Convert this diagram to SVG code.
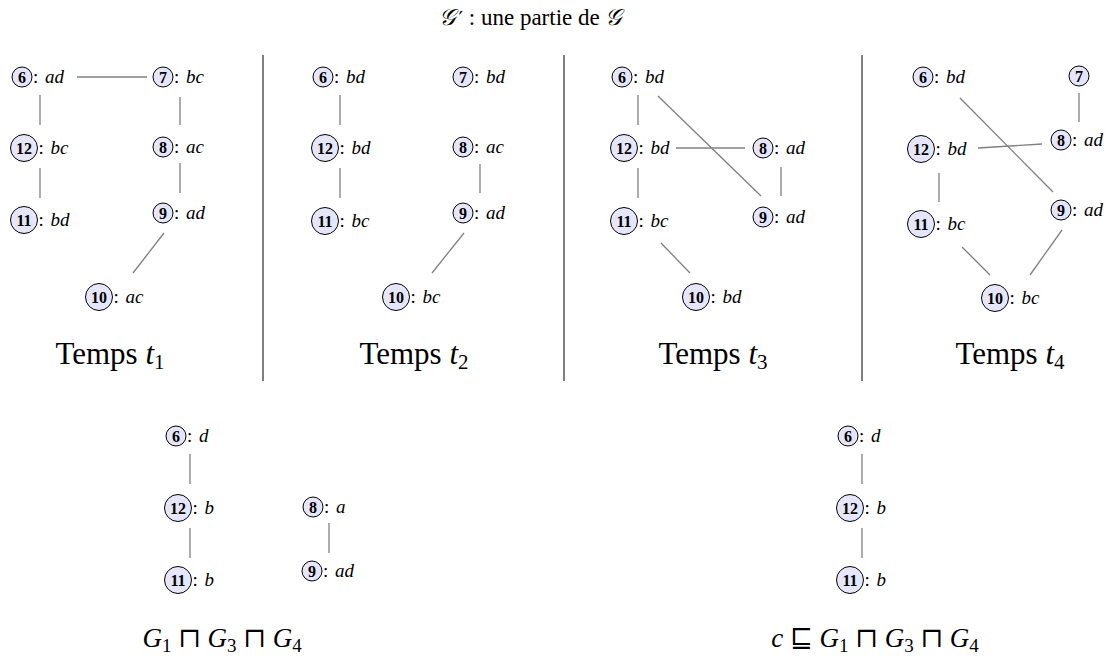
<svg xmlns="http://www.w3.org/2000/svg" width="1110" height="666" viewBox="0 0 1110 666">
<style>
.bg{fill:#fff}
.ci{fill:#e6e6fa;stroke:#000;stroke-width:1}
.num{font-family:"Liberation Serif",serif;font-weight:bold;font-size:16px;text-anchor:middle}
.lbl{font-family:"Liberation Serif",serif;font-size:19px}
.it{font-style:italic}
.edge{stroke:#808080;stroke-width:1.3;fill:none}
.div{stroke:#000;stroke-width:1}
.big{font-family:"Liberation Serif",serif;font-size:31px;text-anchor:middle}
.bot{font-family:"Liberation Serif","DejaVu Serif",serif;font-size:27px;text-anchor:middle}
.title{font-family:"Liberation Serif","DejaVu Serif",serif;font-size:23px;text-anchor:middle}
</style>
<rect class="bg" x="0" y="0" width="1110" height="666"/>
<text id="title" class="title" x="530" y="25"><tspan font-style="italic">𝒢</tspan><tspan font-family="DejaVu Sans, sans-serif" font-size="20" dx="4">′</tspan> : une partie de <tspan font-style="italic">𝒢</tspan></text>
<g id="dividers">
<line class="div" x1="263" y1="55" x2="263" y2="381"/>
<line class="div" x1="564" y1="55" x2="564" y2="381"/>
<line class="div" x1="862" y1="55" x2="862" y2="381"/>
</g>
<g id="connectors">
<line class="edge" x1="77" y1="77" x2="147" y2="77"/>
<line class="edge" x1="40" y1="95" x2="40" y2="125"/>
<line class="edge" x1="40" y1="168" x2="40" y2="198"/>
<line class="edge" x1="180" y1="97" x2="180" y2="125"/>
<line class="edge" x1="180" y1="163" x2="180" y2="193"/>
<line class="edge" x1="164" y1="233" x2="133" y2="273"/>
<line class="edge" x1="340" y1="95" x2="340" y2="125"/>
<line class="edge" x1="340" y1="168" x2="340" y2="198"/>
<line class="edge" x1="480" y1="164" x2="480" y2="193"/>
<line class="edge" x1="464" y1="233" x2="432" y2="273"/>
<line class="edge" x1="638" y1="95" x2="638" y2="125"/>
<line class="edge" x1="638" y1="168" x2="638" y2="198"/>
<line class="edge" x1="676" y1="148" x2="745" y2="148"/>
<line class="edge" x1="658" y1="96" x2="761" y2="196"/>
<line class="edge" x1="781" y1="167" x2="781" y2="196"/>
<line class="edge" x1="661" y1="243" x2="690" y2="273"/>
<line class="edge" x1="1079" y1="93" x2="1079" y2="122"/>
<line class="edge" x1="978" y1="148" x2="1042" y2="144"/>
<line class="edge" x1="960" y1="98" x2="1053" y2="192"/>
<line class="edge" x1="939" y1="173" x2="939" y2="202"/>
<line class="edge" x1="962" y1="247" x2="990" y2="275"/>
<line class="edge" x1="1062" y1="230" x2="1030" y2="275"/>
<line class="edge" x1="190" y1="454" x2="190" y2="484"/>
<line class="edge" x1="190" y1="528" x2="190" y2="558"/>
<line class="edge" x1="329" y1="523" x2="329" y2="553"/>
<line class="edge" x1="862" y1="454" x2="862" y2="484"/>
<line class="edge" x1="862" y1="528" x2="862" y2="558"/>
</g>
<!-- Panel 1 -->
<g id="p1-n6"><circle class="ci" cx="22" cy="77" r="10"/><text class="num" x="22" y="82.5">6</text><text class="lbl" x="33" y="83">: <tspan class="it" dx="2">ad</tspan></text></g>
<g id="p1-n7"><circle class="ci" cx="163" cy="77" r="10"/><text class="num" x="163" y="82.5">7</text><text class="lbl" x="174" y="83">: <tspan class="it" dx="2">bc</tspan></text></g>
<g id="p1-n12"><circle class="ci" cx="24" cy="148" r="13.5"/><text class="num" x="24" y="153.5">12</text><text class="lbl" x="38.5" y="154">: <tspan class="it" dx="2">bc</tspan></text></g>
<g id="p1-n8"><circle class="ci" cx="163" cy="147" r="10"/><text class="num" x="163" y="152.5">8</text><text class="lbl" x="174" y="153">: <tspan class="it" dx="2">ac</tspan></text></g>
<g id="p1-n11"><circle class="ci" cx="24" cy="220" r="13.5"/><text class="num" x="24" y="225.5">11</text><text class="lbl" x="38.5" y="226">: <tspan class="it" dx="2">bd</tspan></text></g>
<g id="p1-n9"><circle class="ci" cx="163" cy="213" r="10"/><text class="num" x="163" y="218.5">9</text><text class="lbl" x="174" y="219">: <tspan class="it" dx="2">ad</tspan></text></g>
<g id="p1-n10"><circle class="ci" cx="99" cy="297" r="13.5"/><text class="num" x="99" y="302.5">10</text><text class="lbl" x="113.5" y="303">: <tspan class="it" dx="2">ac</tspan></text></g>
<!-- Panel 2 -->
<g id="p2-n6"><circle class="ci" cx="323" cy="77" r="10"/><text class="num" x="323" y="82.5">6</text><text class="lbl" x="334" y="83">: <tspan class="it" dx="2">bd</tspan></text></g>
<g id="p2-n7"><circle class="ci" cx="463" cy="77" r="10"/><text class="num" x="463" y="82.5">7</text><text class="lbl" x="474" y="83">: <tspan class="it" dx="2">bd</tspan></text></g>
<g id="p2-n12"><circle class="ci" cx="325" cy="148" r="13.5"/><text class="num" x="325" y="153.5">12</text><text class="lbl" x="339.5" y="154">: <tspan class="it" dx="2">bd</tspan></text></g>
<g id="p2-n8"><circle class="ci" cx="463" cy="147" r="10"/><text class="num" x="463" y="152.5">8</text><text class="lbl" x="474" y="153">: <tspan class="it" dx="2">ac</tspan></text></g>
<g id="p2-n11"><circle class="ci" cx="325" cy="221" r="13.5"/><text class="num" x="325" y="226.5">11</text><text class="lbl" x="339.5" y="227">: <tspan class="it" dx="2">bc</tspan></text></g>
<g id="p2-n9"><circle class="ci" cx="463" cy="213" r="10"/><text class="num" x="463" y="218.5">9</text><text class="lbl" x="474" y="219">: <tspan class="it" dx="2">ad</tspan></text></g>
<g id="p2-n10"><circle class="ci" cx="396" cy="297" r="13.5"/><text class="num" x="396" y="302.5">10</text><text class="lbl" x="410.5" y="303">: <tspan class="it" dx="2">bc</tspan></text></g>
<!-- Panel 3 -->
<g id="p3-n6"><circle class="ci" cx="622" cy="77" r="10"/><text class="num" x="622" y="82.5">6</text><text class="lbl" x="633" y="83">: <tspan class="it" dx="2">bd</tspan></text></g>
<g id="p3-n12"><circle class="ci" cx="624" cy="148" r="13.5"/><text class="num" x="624" y="153.5">12</text><text class="lbl" x="638.5" y="154">: <tspan class="it" dx="2">bd</tspan></text></g>
<g id="p3-n8"><circle class="ci" cx="763" cy="148" r="10"/><text class="num" x="763" y="153.5">8</text><text class="lbl" x="774" y="154">: <tspan class="it" dx="2">ad</tspan></text></g>
<g id="p3-n11"><circle class="ci" cx="624" cy="221" r="13.5"/><text class="num" x="624" y="226.5">11</text><text class="lbl" x="638.5" y="227">: <tspan class="it" dx="2">bc</tspan></text></g>
<g id="p3-n9"><circle class="ci" cx="763" cy="217" r="10"/><text class="num" x="763" y="222.5">9</text><text class="lbl" x="774" y="223">: <tspan class="it" dx="2">ad</tspan></text></g>
<g id="p3-n10"><circle class="ci" cx="696" cy="297" r="13.5"/><text class="num" x="696" y="302.5">10</text><text class="lbl" x="710.5" y="303">: <tspan class="it" dx="2">bd</tspan></text></g>
<!-- Panel 4 -->
<g id="p4-n6"><circle class="ci" cx="923" cy="77" r="10"/><text class="num" x="923" y="82.5">6</text><text class="lbl" x="934" y="83">: <tspan class="it" dx="2">bd</tspan></text></g>
<g id="p4-n7"><circle class="ci" cx="1079" cy="76" r="10"/><text class="num" x="1079" y="81.5">7</text></g>
<g id="p4-n8"><circle class="ci" cx="1061" cy="140" r="10"/><text class="num" x="1061" y="145.5">8</text><text class="lbl" x="1072" y="146">: <tspan class="it" dx="2">ad</tspan></text></g>
<g id="p4-n12"><circle class="ci" cx="921" cy="149" r="13.5"/><text class="num" x="921" y="154.5">12</text><text class="lbl" x="935.5" y="155">: <tspan class="it" dx="2">bd</tspan></text></g>
<g id="p4-n11"><circle class="ci" cx="921" cy="224" r="13.5"/><text class="num" x="921" y="229.5">11</text><text class="lbl" x="935.5" y="230">: <tspan class="it" dx="2">bc</tspan></text></g>
<g id="p4-n9"><circle class="ci" cx="1061" cy="210" r="10"/><text class="num" x="1061" y="215.5">9</text><text class="lbl" x="1072" y="216">: <tspan class="it" dx="2">ad</tspan></text></g>
<g id="p4-n10"><circle class="ci" cx="995" cy="298" r="13.5"/><text class="num" x="995" y="303.5">10</text><text class="lbl" x="1009.5" y="304">: <tspan class="it" dx="2">bc</tspan></text></g>
<!-- Temps labels -->
<g id="temps">
<text class="big" x="110" y="364">Temps <tspan class="it">t</tspan><tspan font-size="21" dy="5">1</tspan></text>
<text class="big" x="414" y="364">Temps <tspan class="it">t</tspan><tspan font-size="21" dy="5">2</tspan></text>
<text class="big" x="713" y="364">Temps <tspan class="it">t</tspan><tspan font-size="21" dy="5">3</tspan></text>
<text class="big" x="1010" y="364">Temps <tspan class="it">t</tspan><tspan font-size="21" dy="5">4</tspan></text>
</g>
<!-- Bottom left -->
<g id="b1-n6"><circle class="ci" cx="176" cy="436" r="10"/><text class="num" x="176" y="441.5">6</text><text class="lbl" x="187" y="442">: <tspan class="it" dx="2">d</tspan></text></g>
<g id="b1-n12"><circle class="ci" cx="178" cy="508" r="13.5"/><text class="num" x="178" y="513.5">12</text><text class="lbl" x="192.5" y="514">: <tspan class="it" dx="2">b</tspan></text></g>
<g id="b1-n11"><circle class="ci" cx="178" cy="580" r="13.5"/><text class="num" x="178" y="585.5">11</text><text class="lbl" x="192.5" y="586">: <tspan class="it" dx="2">b</tspan></text></g>
<g id="b1-n8"><circle class="ci" cx="313" cy="507" r="10"/><text class="num" x="313" y="512.5">8</text><text class="lbl" x="324" y="513">: <tspan class="it" dx="2">a</tspan></text></g>
<g id="b1-n9"><circle class="ci" cx="312" cy="571" r="10"/><text class="num" x="312" y="576.5">9</text><text class="lbl" x="323" y="577">: <tspan class="it" dx="2">ad</tspan></text></g>
<!-- Bottom right -->
<g id="b2-n6"><circle class="ci" cx="848" cy="436" r="10"/><text class="num" x="848" y="441.5">6</text><text class="lbl" x="859" y="442">: <tspan class="it" dx="2">d</tspan></text></g>
<g id="b2-n12"><circle class="ci" cx="850" cy="508" r="13.5"/><text class="num" x="850" y="513.5">12</text><text class="lbl" x="864.5" y="514">: <tspan class="it" dx="2">b</tspan></text></g>
<g id="b2-n11"><circle class="ci" cx="850" cy="580" r="13.5"/><text class="num" x="850" y="585.5">11</text><text class="lbl" x="864.5" y="586">: <tspan class="it" dx="2">b</tspan></text></g>
<g id="bottom-labels">
<text class="bot" x="222" y="647"><tspan class="it">G</tspan><tspan font-size="19" dy="5">1</tspan><tspan dy="-5"> ⊓ </tspan><tspan class="it">G</tspan><tspan font-size="19" dy="5">3</tspan><tspan dy="-5"> ⊓ </tspan><tspan class="it">G</tspan><tspan font-size="19" dy="5">4</tspan></text>
<text class="bot" x="875" y="647"><tspan class="it">c</tspan> ⊑ <tspan class="it">G</tspan><tspan font-size="19" dy="5">1</tspan><tspan dy="-5"> ⊓ </tspan><tspan class="it">G</tspan><tspan font-size="19" dy="5">3</tspan><tspan dy="-5"> ⊓ </tspan><tspan class="it">G</tspan><tspan font-size="19" dy="5">4</tspan></text>
</g>
</svg>
